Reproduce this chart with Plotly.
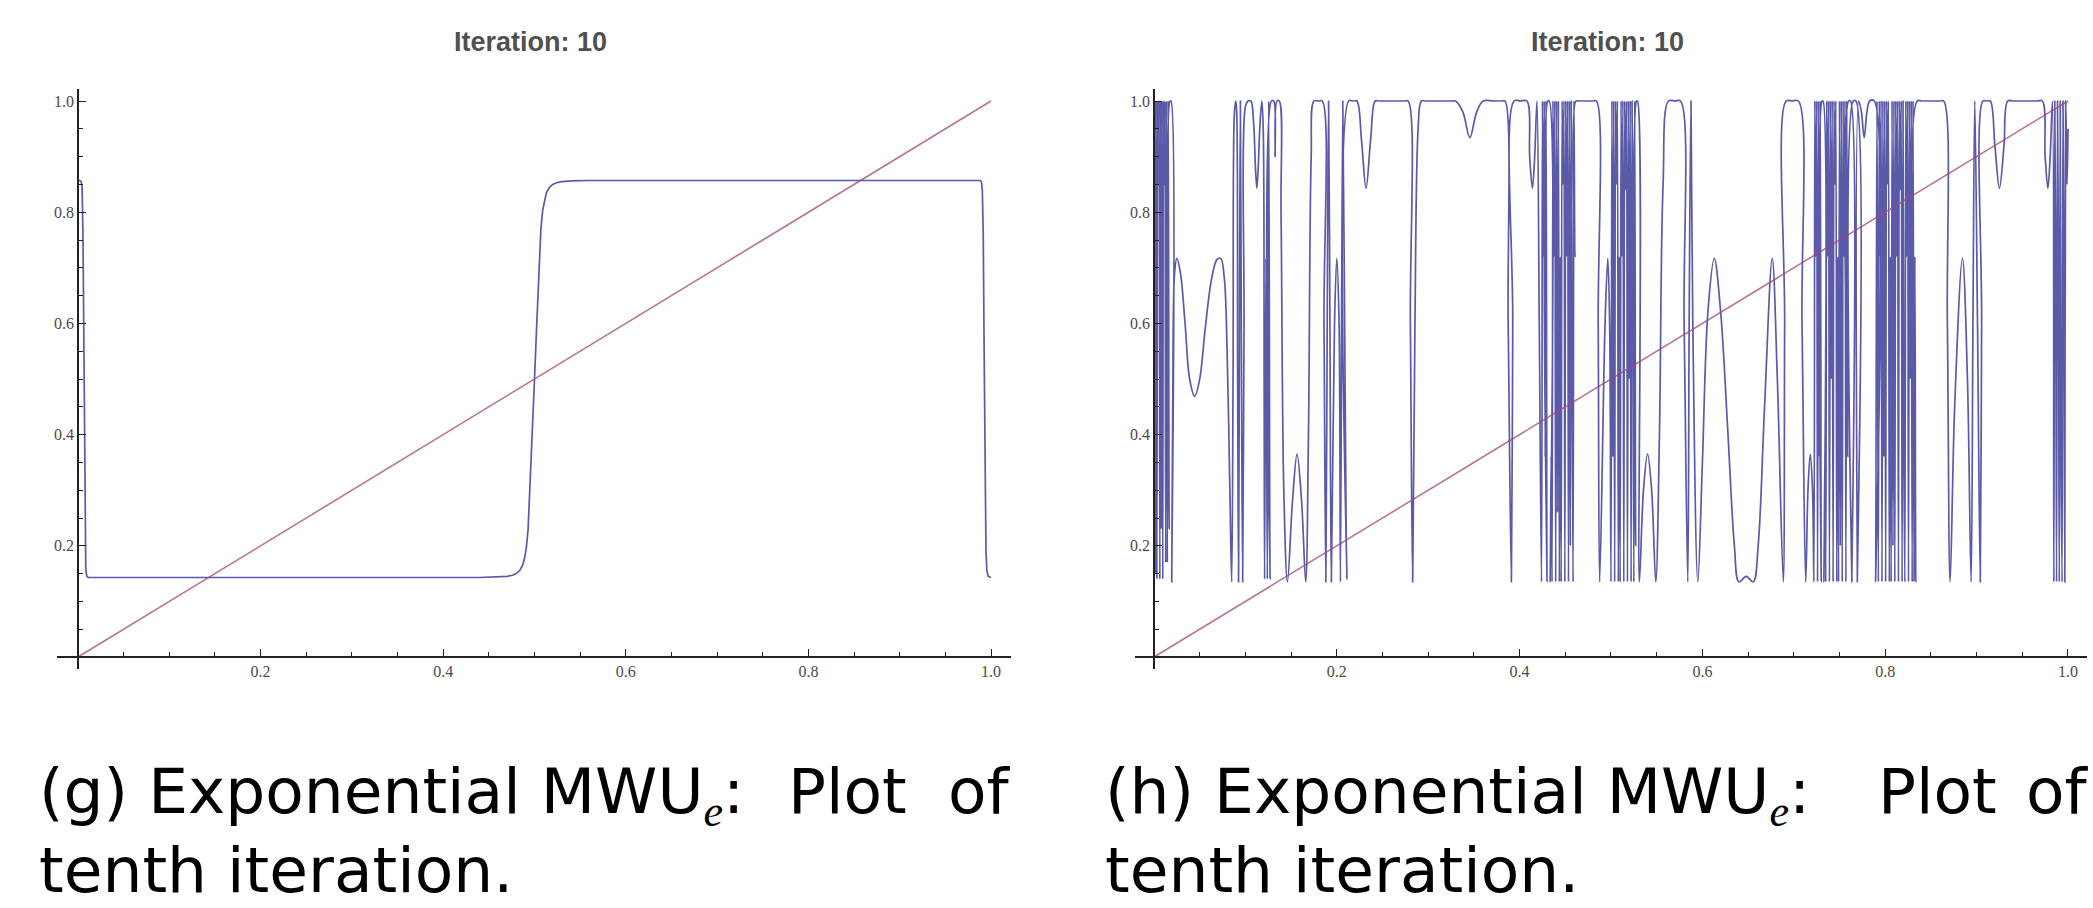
import plotly.graph_objects as go

W, H = 2093, 908

# ---------------- data ----------------
tick_vals = [0.2, 0.4, 0.6, 0.8, 1.0]
tick_text = ["0.2", "0.4", "0.6", "0.8", "1.0"]
titles = ["Iteration: 10", "Iteration: 10"]
caption_heads = ["(g) Exponential MWU<sub><span style=\"font-family:'Liberation Serif',serif\"><i>e</i></span></sub>:",
                 "(h) Exponential MWU<sub><span style=\"font-family:'Liberation Serif',serif\"><i>e</i></span></sub>:"]
caption_word_a = ["Plot", "Plot"]
caption_word_b = ["of", "of"]
captions_line2 = ["tenth iteration.", "tenth iteration."]

diag_x = [0.0, 1.0]
diag_y = [0.0, 1.0]

left_x = [0.0, 0.002, 0.0035, 0.0045, 0.0055, 0.0065, 0.0075, 0.0085, 0.0095, 0.011,
          0.44, 0.46, 0.47, 0.476, 0.48, 0.484, 0.487, 0.489, 0.491, 0.493,
          0.495, 0.4975, 0.5, 0.5025, 0.505, 0.507, 0.509, 0.511, 0.513, 0.516,
          0.52, 0.524, 0.53, 0.54, 0.56, 0.988, 0.9895, 0.9905, 0.9915, 0.9925,
          0.9935, 0.9945, 0.9955, 0.997, 1.0]
left_y = [0.857, 0.857, 0.855, 0.845, 0.75, 0.5, 0.25, 0.16, 0.146, 0.143,
          0.143, 0.1435, 0.145, 0.147, 0.150, 0.156, 0.165, 0.177, 0.196, 0.23,
          0.30, 0.40, 0.5, 0.60, 0.70, 0.77, 0.804, 0.823, 0.835, 0.844,
          0.850, 0.853, 0.855, 0.8565, 0.857, 0.857, 0.855, 0.84, 0.76, 0.55,
          0.32, 0.19, 0.155, 0.145, 0.143]

right_points = [
    (0.000, 0.52), (0.0008, 1.0), (0.0016, 0.15), (0.0024, 1.0), (0.0032, 0.14),
    (0.004, 1.0), (0.0048, 0.85), (0.0056, 1.0), (0.0064, 0.14), (0.0072, 1.0),
    (0.008, 0.23), (0.0088, 1.0), (0.0096, 0.14), (0.0104, 1.0), (0.0112, 0.85),
    (0.012, 1.0), (0.0128, 0.17), (0.0136, 1.0), (0.0146, 0.17), (0.0156, 1.0),
    (0.0166, 0.23), (0.0176, 1.0), (0.0186, 1.0), (0.0194, 0.135),
    (0.0205, 0.45), (0.0225, 0.69), (0.025, 0.717), (0.029, 0.69), (0.034, 0.6),
    (0.039, 0.5), (0.0445, 0.469), (0.05, 0.5), (0.056, 0.59), (0.063, 0.68),
    (0.069, 0.715), (0.073, 0.717), (0.077, 0.68), (0.080, 0.55), (0.083, 0.3),
    (0.085, 0.135), (0.0865, 0.5), (0.088, 0.98), (0.0895, 1.0), (0.0905, 0.98),
    (0.0915, 0.5), (0.0925, 0.135), (0.0935, 0.6), (0.0945, 1.0), (0.0955, 0.6),
    (0.097, 0.135), (0.0985, 0.6), (0.1, 0.99), (0.103, 1.0), (0.106, 1.0),
    (0.109, 0.96), (0.111, 0.88), (0.1125, 0.843), (0.114, 0.88), (0.116, 0.96),
    (0.118, 1.0), (0.1195, 0.95), (0.1205, 0.5), (0.121, 0.14), (0.1225, 0.717),
    (0.124, 0.14), (0.1255, 1.0), (0.127, 0.14), (0.1285, 1.0), (0.131, 1.0),
    (0.1325, 0.9), (0.1345, 1.0), (0.137, 1.0), (0.139, 0.8), (0.142, 0.3),
    (0.146, 0.135), (0.1515, 0.28), (0.1565, 0.365), (0.1615, 0.28), (0.166, 0.135),
    (0.169, 0.4), (0.172, 0.9), (0.175, 1.0), (0.18, 1.0), (0.184, 1.0), (0.186, 0.6),
    (0.188, 0.135), (0.1895, 0.6), (0.191, 1.0), (0.1925, 0.6), (0.194, 0.135),
    (0.1975, 0.6), (0.2, 0.717), (0.2025, 0.6), (0.204, 0.135), (0.2065, 1.0),
    (0.209, 0.5), (0.211, 0.14), (0.213, 1.0), (0.218, 1.0), (0.222, 1.0), (0.227, 0.93),
    (0.232, 0.843), (0.237, 0.93), (0.242, 1.0), (0.246, 1.0), (0.26, 1.0),
    (0.274, 1.0), (0.278, 1.0), (0.2805, 0.6),
    (0.283, 0.135), (0.2855, 0.6), (0.289, 0.95), (0.2925, 1.0), (0.297, 1.0),
    (0.31, 1.0), (0.326, 1.0), (0.33, 1.0),
    (0.338, 0.98), (0.3455, 0.934), (0.353, 0.98), (0.36, 1.0), (0.372, 1.0),
    (0.381, 1.0), (0.384, 1.0),
    (0.3875, 0.6), (0.391, 0.135), (0.3925, 0.6), (0.394, 1.0), (0.401, 1.0), (0.408, 1.0),
    (0.411, 0.9), (0.414, 0.843), (0.4165, 0.9), (0.419, 1.0), (0.4215, 0.6),
    (0.424, 0.135), (0.425, 1.0), (0.426, 0.72), (0.427, 1.0), (0.428, 0.36),
    (0.429, 1.0), (0.430, 0.135), (0.431, 1.0), (0.4325, 1.0), (0.4335, 0.135),
    (0.4345, 0.36), (0.4355, 0.135), (0.4365, 1.0), (0.4375, 0.72), (0.4385, 1.0),
    (0.4395, 0.135), (0.4405, 1.0), (0.4415, 0.26), (0.4425, 1.0), (0.4435, 0.135),
    (0.4445, 0.72), (0.4455, 0.135), (0.4465, 1.0), (0.4475, 0.85), (0.4485, 1.0),
    (0.4495, 0.135), (0.4505, 1.0), (0.4515, 0.72), (0.4525, 1.0), (0.4535, 0.135),
    (0.4545, 1.0), (0.4555, 0.2), (0.4565, 1.0), (0.4575, 0.52), (0.4585, 0.135),
    (0.4595, 1.0), (0.4605, 0.72), (0.4615, 1.0),
    (0.464, 1.0), (0.472, 1.0), (0.48, 1.0), (0.484, 1.0), (0.486, 0.6),
    (0.4876, 0.135), (0.4935, 0.6), (0.4965, 0.717), (0.4985, 0.6), (0.5, 0.135),
    (0.501, 1.0), (0.502, 0.36), (0.503, 1.0), (0.504, 0.135), (0.505, 1.0),
    (0.506, 0.85), (0.507, 1.0), (0.508, 0.135), (0.509, 0.72), (0.510, 0.135),
    (0.511, 1.0), (0.512, 0.72), (0.513, 1.0), (0.514, 0.135), (0.515, 1.0),
    (0.516, 0.84), (0.517, 1.0), (0.518, 0.135), (0.519, 1.0), (0.520, 0.5),
    (0.521, 1.0), (0.522, 0.135), (0.523, 1.0), (0.524, 0.72), (0.525, 0.135),
    (0.526, 1.0), (0.527, 0.2), (0.528, 1.0), (0.529, 1.0),
    (0.531, 0.135), (0.5355, 0.3), (0.540, 0.365),
    (0.5445, 0.3), (0.549, 0.135), (0.553, 0.4), (0.557, 0.85), (0.563, 1.0),
    (0.57, 1.0), (0.576, 1.0), (0.580, 0.6), (0.584, 0.135), (0.5855, 0.6), (0.5875, 1.0),
    (0.5895, 0.6), (0.595, 0.135), (0.600, 0.35), (0.606, 0.62), (0.613, 0.717),
    (0.620, 0.62), (0.628, 0.4), (0.635, 0.2), (0.640, 0.135), (0.648, 0.145),
    (0.6556, 0.135), (0.661, 0.2), (0.668, 0.45), (0.6764, 0.717), (0.682, 0.5),
    (0.6885, 0.135), (0.690, 0.6), (0.6916, 1.0), (0.698, 1.0), (0.705, 1.0), (0.709, 0.6),
    (0.713, 0.135), (0.7155, 0.3), (0.718, 0.365), (0.7205, 0.3),
    (0.722, 0.135), (0.723, 1.0), (0.724, 0.72), (0.725, 1.0), (0.726, 0.135),
    (0.727, 1.0), (0.728, 0.36), (0.729, 1.0), (0.730, 0.135), (0.731, 1.0),
    (0.732, 1.0), (0.733, 0.135), (0.734, 0.36), (0.735, 0.135), (0.736, 1.0),
    (0.737, 0.72), (0.738, 1.0), (0.739, 0.135), (0.740, 1.0), (0.741, 0.5),
    (0.742, 1.0), (0.743, 0.135), (0.744, 1.0), (0.745, 0.85), (0.746, 1.0),
    (0.747, 0.135), (0.748, 0.72), (0.749, 0.135), (0.750, 1.0), (0.751, 0.2),
    (0.752, 1.0), (0.753, 0.135), (0.754, 1.0), (0.755, 0.72), (0.756, 1.0),
    (0.757, 0.135), (0.758, 1.0), (0.759, 0.36), (0.760, 1.0), (0.762, 1.0),
    (0.7635, 0.135), (0.765, 1.0), (0.768, 1.0), (0.7695, 0.135), (0.771, 1.0),
    (0.774, 0.98), (0.777, 0.934), (0.780, 0.98), (0.783, 1.0), (0.788, 1.0),
    (0.7895, 0.135), (0.791, 1.0),
    (0.7925, 0.135), (0.7935, 1.0), (0.7945, 0.72), (0.7955, 1.0), (0.7965, 0.135),
    (0.7975, 1.0), (0.7985, 0.36), (0.7995, 1.0), (0.8005, 0.135), (0.8015, 1.0),
    (0.8025, 0.85), (0.8035, 1.0), (0.8045, 0.135), (0.8055, 0.72), (0.8065, 0.135),
    (0.8075, 1.0), (0.8085, 0.2), (0.8095, 1.0), (0.8105, 0.135), (0.8115, 1.0),
    (0.8125, 0.72), (0.8135, 1.0), (0.8145, 0.135), (0.8155, 1.0), (0.8165, 0.84),
    (0.8175, 1.0), (0.8185, 0.135), (0.8195, 1.0), (0.8205, 0.36), (0.8215, 0.135),
    (0.8225, 1.0), (0.8235, 0.72), (0.8245, 1.0), (0.8255, 0.135), (0.8265, 1.0),
    (0.8275, 0.5), (0.8285, 1.0), (0.8295, 0.135), (0.8305, 1.0), (0.8315, 0.135),
    (0.8325, 0.72), (0.8335, 0.135), (0.835, 1.0),
    (0.84, 1.0), (0.85, 1.0), (0.86, 1.0), (0.864, 1.0), (0.868, 0.6),
    (0.871, 0.135), (0.876, 0.45),
    (0.8845, 0.717), (0.890, 0.5), (0.894, 0.135), (0.896, 0.6), (0.898, 1.0),
    (0.901, 0.6), (0.904, 0.135), (0.9055, 0.6), (0.907, 1.0), (0.911, 1.0), (0.915, 1.0),
    (0.920, 0.92), (0.925, 0.843), (0.930, 0.92), (0.934, 1.0), (0.94, 1.0), (0.953, 1.0),
    (0.966, 1.0), (0.972, 1.0),
    (0.975, 0.9), (0.978, 0.843), (0.9805, 0.9), (0.983, 1.0), (0.9845, 0.135),
    (0.9855, 1.0), (0.9865, 0.72), (0.9875, 0.135), (0.9885, 1.0), (0.9895, 0.72),
    (0.9905, 0.135), (0.9915, 1.0), (0.9925, 0.36), (0.9935, 0.135), (0.9945, 1.0),
    (0.9955, 0.72), (0.9965, 0.135), (0.9975, 1.0), (0.999, 0.85),
    (1.0, 0.95),
]
right_x = [p[0] for p in right_points]
right_y = [p[1] for p in right_points]

# ---------------- styling ----------------
BLUE = "rgba(61,61,153,0.85)"
PINK = "rgba(160,70,120,0.75)"
AXIS = "#222222"
TICKFONT = dict(family="Liberation Serif, Times New Roman, serif", size=16, color="#4a4a4a")
CAPFONT = dict(family="DejaVu Sans, sans-serif", size=63, color="#000000")

def px_x(p):
    return p / W

def px_y(p):
    return 1 - p / H

panels = [
    dict(x0=78, sx=913, xlo=-0.023, xhi=1.022),
    dict(x0=1154, sx=914, xlo=-0.021, xhi=1.021),
]
Y0, SY = 657, 556
YLO, YHI = -0.0216, 1.0216

fig = go.Figure()

curves = [(left_x, left_y, "linear"), (right_x, right_y, "spline")]
for i, (cx, cy, shp) in enumerate(curves):
    xa = "x" if i == 0 else "x2"
    ya = "y" if i == 0 else "y2"
    fig.add_trace(go.Scatter(x=cx, y=cy, mode="lines", xaxis=xa, yaxis=ya,
                             line=dict(color=BLUE, width=1.7, shape=shp),
                             hoverinfo="skip", showlegend=False))
    fig.add_trace(go.Scatter(x=diag_x, y=diag_y, mode="lines", xaxis=xa, yaxis=ya,
                             line=dict(color=PINK, width=1.6),
                             hoverinfo="skip", showlegend=False))

for i, p in enumerate(panels):
    xdom = [px_x(p["x0"] + p["sx"] * p["xlo"]), px_x(p["x0"] + p["sx"] * p["xhi"])]
    ydom = [px_y(Y0 - SY * YLO), px_y(Y0 - SY * YHI)]
    common = dict(showline=True, linecolor=AXIS, linewidth=1.6, ticks="inside",
                  tickcolor=AXIS, tickwidth=1.2, ticklen=7, showgrid=False, zeroline=False,
                  tickmode="array", tickvals=tick_vals, ticktext=tick_text,
                  tickfont=TICKFONT, anchor="free",
                  minor=dict(tickmode="linear", tick0=0, dtick=0.05, ticks="inside",
                             ticklen=4, tickcolor=AXIS, tickwidth=1.2, showgrid=False))
    xkey = "xaxis" if i == 0 else "xaxis2"
    ykey = "yaxis" if i == 0 else "yaxis2"
    fig.update_layout(**{
        xkey: dict(domain=xdom, range=[p["xlo"], p["xhi"]], position=px_y(Y0), **common),
        ykey: dict(domain=ydom, range=[YLO, YHI], position=px_x(p["x0"]), **common),
    })

title_centers = [530, 1607]
annotations = []
for i in range(2):
    annotations.append(dict(text="<b>" + titles[i] + "</b>", x=px_x(title_centers[i]), y=px_y(42),
                            xref="paper", yref="paper", showarrow=False,
                            xanchor="center", yanchor="middle",
                            font=dict(family="Liberation Sans, Arial, sans-serif", size=27, color="#505050")))

cap_left = [37, 1103]
plot_word_left = [786, 1876]
of_word_right = [1013, 2091]
for i in range(2):
    annotations.append(dict(text=caption_heads[i], x=px_x(cap_left[i]), y=px_y(753),
                            xref="paper", yref="paper", showarrow=False,
                            xanchor="left", yanchor="top", font=CAPFONT))
    annotations.append(dict(text=caption_word_a[i], x=px_x(plot_word_left[i]), y=px_y(753),
                            xref="paper", yref="paper", showarrow=False,
                            xanchor="left", yanchor="top", font=CAPFONT))
    annotations.append(dict(text=caption_word_b[i], x=px_x(of_word_right[i]), y=px_y(753),
                            xref="paper", yref="paper", showarrow=False,
                            xanchor="right", yanchor="top", font=CAPFONT))
    annotations.append(dict(text=captions_line2[i], x=px_x(cap_left[i]), y=px_y(832),
                            xref="paper", yref="paper", showarrow=False,
                            xanchor="left", yanchor="top", font=CAPFONT))

fig.update_layout(width=W, height=H, margin=dict(l=0, r=0, t=0, b=0),
                  paper_bgcolor="white", plot_bgcolor="white",
                  annotations=annotations)

fig.write_html("out.html", config={"displayModeBar": False},
               post_script="document.body.style.margin='0';")
